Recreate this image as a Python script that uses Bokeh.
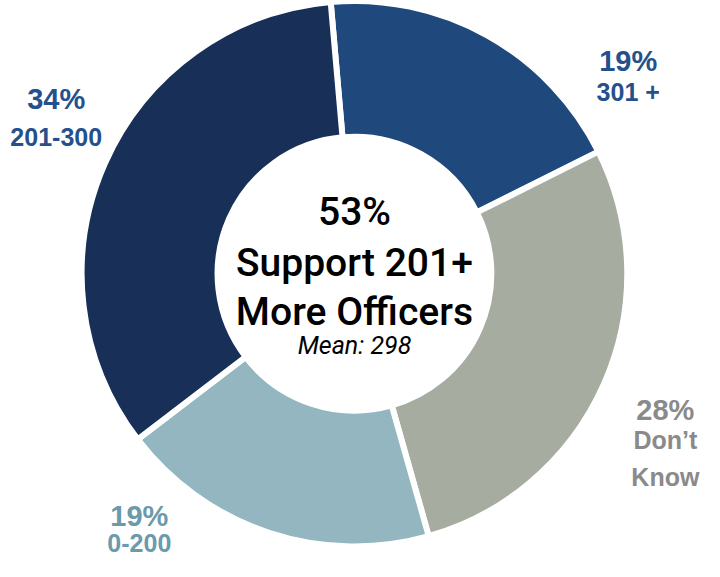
import math
from bokeh.plotting import figure
from bokeh.models import Range1d, ColumnDataSource
from bokeh.core.properties import value
from bokeh.embed import file_html
from bokeh.resources import INLINE

# ---- data ----
categories = ["301 +", "Don't Know", "0-200", "201-300"]
shares = [19, 28, 19, 34]
slice_colors = ["#1f487c", "#a7aca1", "#93b6c0", "#182f58"]
label_colors = ["#24508c", "#8a8a8a", "#6a9aab", "#24508c"]
pct_labels = ["19%", "28%", "19%", "34%"]
cat_lines = [["301 +"], ["Don\u2019t", "Know"], ["0-200"], ["201-300"]]
center_lines = ["53%", "Support 201+", "More Officers"]
mean_label = "Mean: 298"

W, H = 704, 561
REF_W, REF_H = 720, 577


def Y(y_img):
    return REF_H - y_img


p = figure(width=W, height=H, output_backend="svg", toolbar_location=None,
           x_range=Range1d(0, REF_W), y_range=Range1d(0, REF_H),
           min_border=0)
p.axis.visible = False
p.grid.visible = False
p.outline_line_color = None
p.background_fill_color = "white"
p.border_fill_color = "white"

cx, cy = 362, Y(281)
start = -5.0  # clockwise-from-top degrees
total = float(sum(shares))
starts, ends = [], []
acc = start
for s in shares:
    a0 = acc
    a1 = acc + 360.0 * s / total
    starts.append(math.radians(90 - a0))
    ends.append(math.radians(90 - a1))
    acc = a1

src = ColumnDataSource(dict(x=[cx] * 4, y=[cy] * 4, s=starts, e=ends, c=slice_colors))
p.annular_wedge(x="x", y="y", inner_radius=140, outer_radius=279,
                start_angle="s", end_angle="e", direction="clock",
                fill_color="c", line_color="white", line_width=6, source=src)

# outside labels: (center x, pct baseline, category baselines) in reference px
label_pos = [
    (642, 62, [94]),
    (680, 421, [452, 490]),
    (142, 530, [558]),
    (57, 101, [140]),
]
FONT = "'Liberation Sans', Arial, sans-serif"
for i in range(4):
    x, yb, cbs = label_pos[i]
    p.text(x=[x], y=[Y(yb)], text=[pct_labels[i]], text_font=value(FONT),
           text_font_size="29px", text_font_style="bold", text_color=label_colors[i],
           text_align="center", text_baseline="alphabetic")
    for line, b in zip(cat_lines[i], cbs):
        p.text(x=[x], y=[Y(b)], text=[line], text_font=value(FONT),
               text_font_size="25px", text_font_style="bold", text_color=label_colors[i],
               text_align="center", text_baseline="alphabetic")

# center texts
CFONT = "'Roboto Medium', Roboto, sans-serif"
center_base = [218, 270, 320]
for t, b in zip(center_lines, center_base):
    p.text(x=[cx], y=[Y(b)], text=[t], text_font=value(CFONT),
           text_font_size="39px", text_color="black",
           text_align="center", text_baseline="alphabetic")
p.text(x=[cx], y=[Y(355)], text=[mean_label], text_font=value("Roboto"),
       text_font_size="25px", text_font_style="italic", text_color="black",
       text_align="center", text_baseline="alphabetic")

open("out.html", "w").write(file_html(p, INLINE))
